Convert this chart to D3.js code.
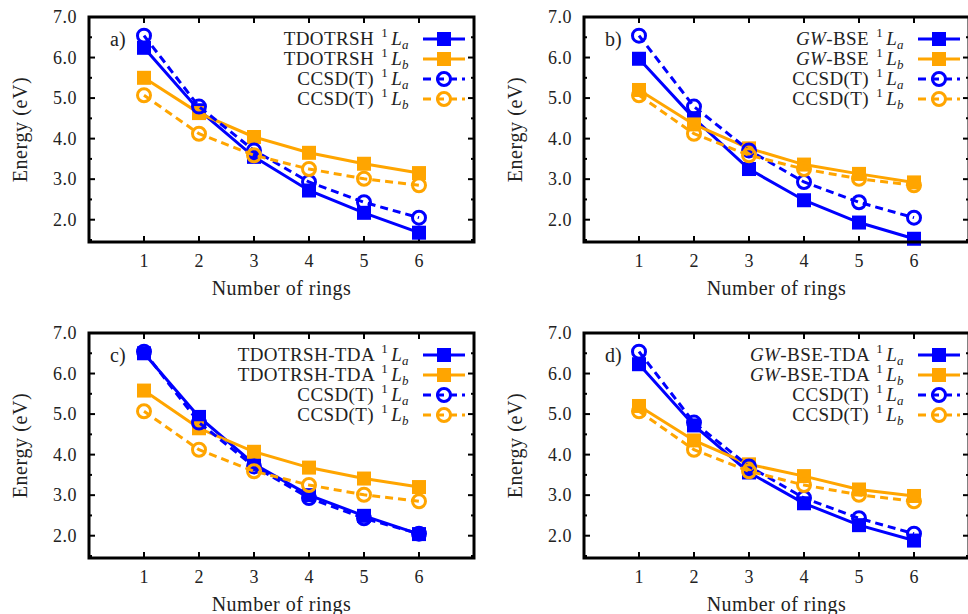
<!DOCTYPE html>
<html>
<head>
<meta charset="utf-8">
<script src="https://cdn.jsdelivr.net/npm/d3@7"></script>
<style>
  body { margin: 0; background: #fff; }
  text { font-family: "Liberation Serif", "DejaVu Serif", serif; fill: #222; }
</style>
</head>
<body>
<svg id="chart" width="968" height="614"></svg>
<script>
// ring counts on the x axis
const rings = [1, 2, 3, 4, 5, 6]
const yTicks = [2, 3, 4, 5, 6, 7]
const yMinor = [1.5, 2.5, 3.5, 4.5, 5.5, 6.5]

// CCSD(T) reference, same in every panel
const ccsdLa = [6.54, 4.79, 3.71, 2.93, 2.43, 2.05]
const ccsdLb = [5.07, 4.12, 3.59, 3.25, 3.01, 2.85]

// a) TDOTRSH
const tdotrshLa = [6.24, 4.70, 3.55, 2.72, 2.17, 1.68]
const tdotrshLb = [5.50, 4.63, 4.04, 3.65, 3.38, 3.15]
// b) GW-BSE
const gwbseLa = [5.97, 4.50, 3.25, 2.48, 1.93, 1.53]
const gwbseLb = [5.20, 4.35, 3.76, 3.36, 3.13, 2.92]
// c) TDOTRSH-TDA
const tdotrshTdaLa = [6.50, 4.93, 3.77, 3.00, 2.49, 2.04]
const tdotrshTdaLb = [5.58, 4.65, 4.07, 3.68, 3.41, 3.20]
// d) GW-BSE-TDA
const gwbseTdaLa = [6.23, 4.72, 3.56, 2.80, 2.26, 1.88]
const gwbseTdaLb = [5.20, 4.35, 3.76, 3.47, 3.14, 2.98]

const panelTags = ['a)', 'b)', 'c)', 'd)']
const methodNames = ['TDOTRSH', 'GW-BSE', 'TDOTRSH-TDA', 'GW-BSE-TDA']

const blue = '#0000ff'
const orange = '#ffa500'

const svg = d3.select('#chart')

const boxW = 385, boxH = 225
const origins = [[89, 17], [584, 17], [89, 333], [584, 333]]

const panels = [
    [tdotrshLa, tdotrshLb],
    [gwbseLa, gwbseLb],
    [tdotrshTdaLa, tdotrshTdaLb],
    [gwbseTdaLa, gwbseTdaLb]
]

panels.forEach((p, i) => drawPanel(i, p[0], p[1]))

function drawPanel(i, la, lb){
    const [ox, oy] = origins[i]
    const g = svg.append('g').attr('transform', `translate(${ox},${oy})`)

    const x = d3.scaleLinear().domain([0, 7]).range([0, boxW])
    const y = d3.scaleLinear().domain([1.45, 7]).range([boxH, 0])

    // ticks (inward, all four sides)
    const tk = g.append('g').attr('stroke', '#000').attr('stroke-width', 2)
    rings.forEach(r => {
        tk.append('line').attr('x1', x(r)).attr('x2', x(r)).attr('y1', boxH).attr('y2', boxH - 6)
        tk.append('line').attr('x1', x(r)).attr('x2', x(r)).attr('y1', 0).attr('y2', 6)
    })
    yTicks.forEach(v => {
        tk.append('line').attr('x1', 0).attr('x2', 6).attr('y1', y(v)).attr('y2', y(v))
        tk.append('line').attr('x1', boxW).attr('x2', boxW - 6).attr('y1', y(v)).attr('y2', y(v))
    })
    yMinor.forEach(v => {
        tk.append('line').attr('x1', 0).attr('x2', 3).attr('y1', y(v)).attr('y2', y(v))
        tk.append('line').attr('x1', boxW).attr('x2', boxW - 3).attr('y1', y(v)).attr('y2', y(v))
    })

    // tick labels
    g.selectAll('.ylab').data(yTicks).enter().append('text')
        .attr('x', -12).attr('y', d => y(d) + 6)
        .attr('text-anchor', 'end').attr('font-size', 18)
        .attr('letter-spacing', 0.5)
        .text(d3.format('.1f'))
    g.selectAll('.xlab').data(rings).enter().append('text')
        .attr('x', d => x(d)).attr('y', boxH + 25)
        .attr('text-anchor', 'middle').attr('font-size', 18)
        .text(d => d)

    g.append('text').attr('x', boxW / 2).attr('y', boxH + 53)
        .attr('text-anchor', 'middle').attr('font-size', 20)
        .attr('letter-spacing', 0.5)
        .text('Number of rings')
    g.append('text')
        .attr('transform', `translate(${-62},${boxH / 2}) rotate(-90)`)
        .attr('text-anchor', 'middle').attr('font-size', 20)
        .attr('letter-spacing', 0.6)
        .text('Energy (eV)')

    g.append('text').attr('x', 21).attr('y', 29).attr('font-size', 20).text(panelTags[i])

    const line = d3.line().x((d, j) => x(rings[j])).y(d => y(d))

    const series = [
        {vals: la, color: blue, dash: null, mark: 'sq', name: methodNames[i], st: 'a'},
        {vals: lb, color: orange, dash: null, mark: 'sq', name: methodNames[i], st: 'b'},
        {vals: ccsdLa, color: blue, dash: '8,5', mark: 'ci', name: 'CCSD(T)', st: 'a'},
        {vals: ccsdLb, color: orange, dash: '8,5', mark: 'ci', name: 'CCSD(T)', st: 'b'}
    ]

    series.forEach((s, k) => {
        g.append('path').datum(s.vals)
            .attr('d', line)
            .attr('fill', 'none').attr('stroke', s.color).attr('stroke-width', 3)
            .attr('stroke-dasharray', s.dash)
        drawMarks(g, s, s.vals.map((v, j) => [x(rings[j]), y(v)]))

        // legend entry
        const ly = 22 + k * 20
        const sx = boxW - 51
        g.append('line').attr('x1', sx).attr('x2', sx + 42).attr('y1', ly).attr('y2', ly)
            .attr('stroke', s.color).attr('stroke-width', 3).attr('stroke-dasharray', s.dash)
        drawMarks(g, s, [[sx + 21, ly]])

        const t = g.append('text').attr('x', sx - 14).attr('y', ly + 6)
            .attr('text-anchor', 'end').attr('font-size', 19)
            .attr('letter-spacing', 0.4)
        if (s.name.startsWith('GW')) {
            t.append('tspan').attr('font-style', 'italic').text('GW')
            t.append('tspan').text(s.name.slice(2) + ' ')
        } else {
            t.append('tspan').text(s.name + ' ')
        }
        t.append('tspan').attr('font-size', 13).attr('dy', -8).attr('dx', 2).text('1')
        t.append('tspan').attr('font-style', 'italic').attr('dy', 8).attr('dx', 3).text('L')
        t.append('tspan').attr('font-style', 'italic').attr('font-size', 13).attr('dy', 4).text(s.st)
    })

    // frame
    g.append('rect').attr('width', boxW).attr('height', boxH)
        .attr('fill', 'none').attr('stroke', '#000').attr('stroke-width', 3)
}

function drawMarks(g, s, pts){
    if (s.mark === 'sq') {
        g.selectAll(null).data(pts).enter().append('rect')
            .attr('x', d => d[0] - 7).attr('y', d => d[1] - 7)
            .attr('width', 14).attr('height', 14)
            .attr('fill', s.color)
    } else {
        g.selectAll(null).data(pts).enter().append('circle')
            .attr('cx', d => d[0]).attr('cy', d => d[1]).attr('r', 6.5)
            .attr('fill', 'none').attr('stroke', s.color).attr('stroke-width', 3)
    }
}
</script>
</body>
</html>
